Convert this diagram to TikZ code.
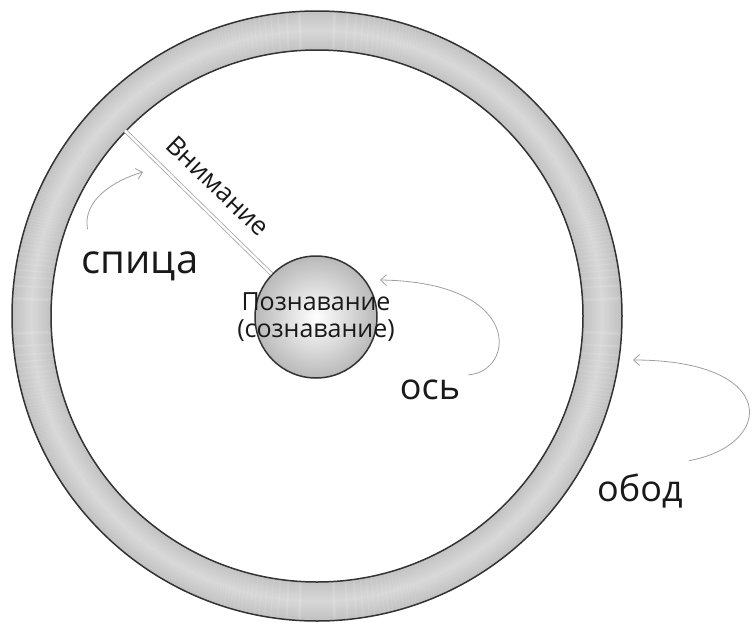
\documentclass[tikz,border=0pt]{standalone}
\usepackage{fontspec}
\setmainfont{Open Sans}
\usetikzlibrary{arrows.meta}

\begin{document}
\begin{tikzpicture}[x=1pt, y=-1pt,
  rimedge/.style={circle, draw=black!80, line width=1.5pt, inner sep=0pt},
  hubball/.style={circle, draw=black!80, line width=1.5pt, inner sep=0pt, minimum size=122pt, inner color=white, outer color=gray!55},
  spoke/.style={draw=gray!70, double=white, double distance=2.4pt, line width=0.8pt},
  word/.style={text=black!90, inner sep=0pt},
  pointer/.style={-{Straight Barb[length=6pt, width=11pt]}, draw=gray!75, line width=0.8pt}
]
  \useasboundingbox (0,0) rectangle (753,624);

  % wheel
  \foreach \i in {0,...,38}{
    \pgfmathsetmacro\tone{30+18*abs(\i-19)/19}
    \draw[gray!\tone, line width=1.3pt] (317,316) circle[radius=266.5pt+\i pt];
  }
  \node[rimedge, minimum size=610pt] (rim) at (317,316) {};
  \node[rimedge, minimum size=532pt] (rimin) at (317,316) {};
  \node[hubball] (hub) at (316,317) {};
  \draw[spoke] (hub.136) -- (rimin.136);

  % labels
  \node[word, font=\fontsize{26}{28}\selectfont, rotate=-44] (attn) at (218,186) {Внимание};
  \node[word, font=\fontsize{25}{27}\selectfont, align=center] (hubtxt) at (hub.center) {Познавание\\(сознавание)};
  \node[word, font=\fontsize{40}{40}\selectfont] (spokelbl) at (140,266) {спица};
  \node[word, font=\fontsize{36}{36}\selectfont] (axlelbl) at (430,390) {ось};
  \node[word, font=\fontsize{36}{36}\selectfont] (rimlbl) at (640,491) {обод};

  % pointers
  \coordinate (spoketip) at (143,172);
  \coordinate (axletip) at (380,280);
  \coordinate (rimtip) at (633,360);
  \draw[pointer] ([shift={(6,-22)}]spokelbl.north west) .. controls (82,200) and (115,180) .. (spoketip);
  \draw[pointer] ([shift={(8,-5)}]axlelbl.north east) .. controls (515,372) and (525,282) .. (axletip);
  \draw[pointer] ([shift={(6,-13)}]rimlbl.north east) .. controls (775,445) and (780,360) .. (rimtip);
\end{tikzpicture}
\end{document}
